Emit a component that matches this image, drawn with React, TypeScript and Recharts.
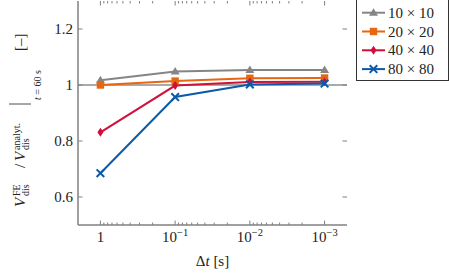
import React from 'react'
import { Legend, Line, LineChart, ReferenceLine, XAxis, YAxis } from 'recharts'

// time step exponents: Δt = 10^e
const dtExponents = [0, -1, -2, -3]
const meshNames = ['10 × 10', '20 × 20', '40 × 40', '80 × 80']
const ratio10 = [1.017, 1.048, 1.054, 1.054]
const ratio20 = [1.0, 1.014, 1.024, 1.025]
const ratio40 = [0.831, 0.998, 1.011, 1.012]
const ratio80 = [0.685, 0.957, 1.002, 1.005]
const yTicks = [0.6, 0.8, 1, 1.2]

const FONT = "'Liberation Serif', serif"
const FRAME = '#808080'
const FS = 15

// plot box (the mirrored ticks on top / right are drawn from the bottom / left ticks)
const W = 449
const H = 275
const MARGIN = { top: 1, right: 102, bottom: 0, left: 0 }
const X_AXIS_H = 50
const Y_AXIS_W = 78
const PLOT_TOP = MARGIN.top
const PLOT_RIGHT = W - MARGIN.right

type Shape = 'triangle' | 'square' | 'diamond' | 'cross'

const series: { key: string; name: string; values: number[]; color: string; shape: Shape }[] = [
  { key: 's10', name: meshNames[0], values: ratio10, color: '#858585', shape: 'triangle' },
  { key: 's20', name: meshNames[1], values: ratio20, color: '#e8660f', shape: 'square' },
  { key: 's40', name: meshNames[2], values: ratio40, color: '#d0103a', shape: 'diamond' },
  { key: 's80', name: meshNames[3], values: ratio80, color: '#0a5aa8', shape: 'cross' },
]

const data = dtExponents.map((e, i) => {
  const row: Record<string, number> = { x: -e }
  series.forEach(s => {
    row[s.key] = s.values[i]
  })
  return row
})

const majorX = dtExponents.map(e => -e)
// log minor ticks between the decades
const minorX = [0, 1, 2].flatMap(d =>
  [2, 3, 4, 5, 6, 7, 8, 9].map(k => d + 1 - Math.log10(k))
)
const xTicks = [...majorX, ...minorX]
const xDomain = [-0.3, 3.3]
const yDomain = [0.5, 1.3]

function marker(shape: Shape, cx: number, cy: number, color: string, key?: string | number) {
  if (shape === 'triangle')
    return <path key={key} d={`M${cx},${cy - 4.5} L${cx + 4.5},${cy + 3} L${cx - 4.5},${cy + 3} Z`} fill={color} />
  if (shape === 'square')
    return <rect key={key} x={cx - 3.7} y={cy - 3.7} width={7.4} height={7.4} fill={color} />
  if (shape === 'diamond')
    return <path key={key} d={`M${cx},${cy - 4.5} L${cx + 3},${cy} L${cx},${cy + 4.5} L${cx - 3},${cy} Z`} fill={color} />
  return (
    <path
      key={key}
      d={`M${cx - 3.8},${cy - 3.8} L${cx + 3.8},${cy + 3.8} M${cx - 3.8},${cy + 3.8} L${cx + 3.8},${cy - 3.8}`}
      stroke={color}
      strokeWidth={2}
    />
  )
}

function xLabel(v: number) {
  if (v === 0) return <tspan>1</tspan>
  return (
    <>
      <tspan>10</tspan>
      <tspan dy={-6} fontSize={10.5}>
        {'−' + v}
      </tspan>
    </>
  )
}

function BottomTick({ x, y, payload }: any) {
  const v = payload.value
  const major = majorX.includes(v)
  const len = major ? 4.5 : 2.5
  return (
    <g>
      <line x1={x} x2={x} y1={y} y2={y - len} stroke={FRAME} />
      <line x1={x} x2={x} y1={PLOT_TOP} y2={PLOT_TOP + len} stroke={FRAME} />
      {major && (
        <text x={x} y={y + 17} textAnchor='middle' fontSize={FS} fontFamily={FONT} fill='#222'>
          {xLabel(v)}
        </text>
      )}
    </g>
  )
}

function LeftTick({ x, y, payload }: any) {
  return (
    <g>
      <line x1={x} x2={x + 4.5} y1={y} y2={y} stroke={FRAME} />
      <line x1={PLOT_RIGHT} x2={PLOT_RIGHT - 4.5} y1={y} y2={y} stroke={FRAME} />
      <text x={x - 5} y={y + 5} textAnchor='end' fontSize={FS} fontFamily={FONT} fill='#222'>
        {String(payload.value)}
      </text>
    </g>
  )
}

function YTitle() {
  const sub = 10
  return (
    <g transform='translate(25, 0) rotate(-90)' fontFamily={FONT} fill='#222'>
      <text x={-207} y={0} fontSize={FS} fontStyle='italic'>V</text>
      <text x={-196} y={-5.5} fontSize={sub}>FE</text>
      <text x={-196} y={4} fontSize={sub}>dis</text>
      <text x={-168} y={0} fontSize={FS}>/</text>
      <text x={-161} y={0} fontSize={FS} fontStyle='italic'>V</text>
      <text x={-150} y={-5.5} fontSize={sub}>analyt.</text>
      <text x={-150} y={4} fontSize={sub}>dis</text>
      <line x1={-104} x2={-104} y1={-16} y2={6} stroke='#222' strokeWidth={0.8} />
      <text x={-100} y={16} fontSize={sub}>
        <tspan fontStyle='italic'>t</tspan> = 60 s
      </text>
      <text x={-51} y={0} fontSize={FS}>[–]</text>
    </g>
  )
}

function XTitle() {
  return (
    <text x={212.5} y={266} textAnchor='middle' fontSize={FS} fontFamily={FONT} fill='#222'>
      Δ<tspan fontStyle='italic'>t</tspan> [s]
    </text>
  )
}

function LegendBox() {
  return (
    <svg width={93} height={82} style={{ display: 'block' }}>
      <rect x={0.5} y={0.5} width={92} height={81} fill='#fff' stroke='#333' />
      {series.map((s, i) => {
        const cy = 13.7 + i * 18.8
        return (
          <g key={s.key}>
            <line x1={6} x2={29} y1={cy} y2={cy} stroke={s.color} strokeWidth={2} />
            {marker(s.shape, 17.5, cy, s.color)}
            <text x={32} y={cy + 5} fontSize={FS} fontFamily={FONT} fill='#222'>
              {s.name}
            </text>
          </g>
        )
      })}
    </svg>
  )
}

export default function App() {
  return (
    <div style={{ position: 'absolute', left: 0, top: 0, width: W, height: H, background: '#fff' }}>
      <LineChart width={W} height={H} data={data} margin={MARGIN}>
        <XAxis
          xAxisId='b'
          dataKey='x'
          type='number'
          orientation='bottom'
          domain={xDomain}
          ticks={xTicks}
          interval={0}
          height={X_AXIS_H}
          tickSize={0}
          tickMargin={0}
          tickLine={false}
          tick={<BottomTick />}
          axisLine={{ stroke: FRAME, strokeWidth: 1.5 }}
          label={<XTitle />}
          allowDataOverflow
        />
        <XAxis
          xAxisId='t'
          dataKey='x'
          type='number'
          orientation='top'
          domain={xDomain}
          height={0}
          tick={false}
          tickLine={false}
          axisLine={{ stroke: '#444', strokeWidth: 1.5 }}
          allowDataOverflow
        />
        <YAxis
          yAxisId='l'
          type='number'
          domain={yDomain}
          ticks={yTicks}
          interval={0}
          width={Y_AXIS_W}
          tickSize={0}
          tickMargin={0}
          tickLine={false}
          tick={<LeftTick />}
          axisLine={{ stroke: FRAME, strokeWidth: 1.5 }}
          label={<YTitle />}
          allowDataOverflow
        />
        <YAxis
          yAxisId='r'
          orientation='right'
          type='number'
          domain={yDomain}
          width={0}
          tick={false}
          tickLine={false}
          axisLine={{ stroke: FRAME, strokeWidth: 1.5 }}
          allowDataOverflow
        />
        <ReferenceLine xAxisId='b' yAxisId='l' y={1} stroke='#555' strokeWidth={1} />
        {series.map(s => (
          <Line
            key={s.key}
            xAxisId='b'
            yAxisId='l'
            dataKey={s.key}
            name={s.name}
            stroke={s.color}
            strokeWidth={2}
            isAnimationActive={false}
            dot={(p: any) => marker(s.shape, p.cx, p.cy, s.color, p.index)}
            activeDot={false}
          />
        ))}
        <Legend
          layout='vertical'
          align='center'
          verticalAlign='middle'
          content={<LegendBox />}
          wrapperStyle={{ left: 356, top: -1, width: 93, height: 82 }}
        />
      </LineChart>
    </div>
  )
}
